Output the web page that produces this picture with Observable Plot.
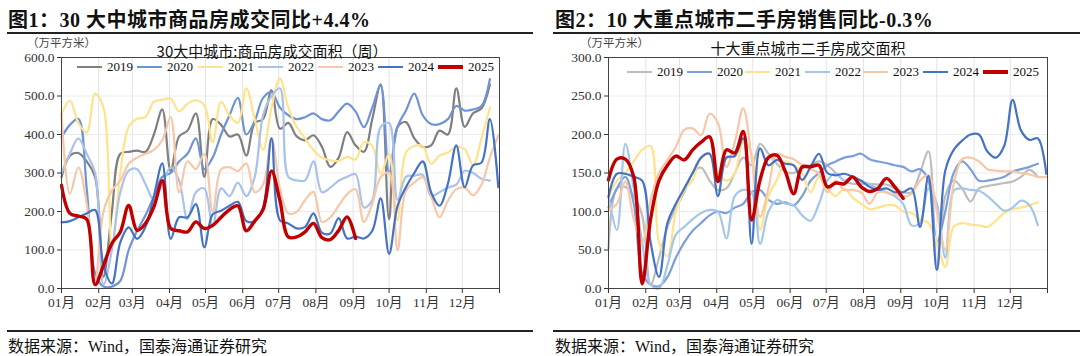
<!DOCTYPE html>
<html><head><meta charset="utf-8">
<script src="https://cdn.jsdelivr.net/npm/d3@7"></script>
<script src="https://cdn.jsdelivr.net/npm/@observablehq/plot@0.6"></script>
<style>
body{margin:0;background:#fff;width:1080px;height:356px;overflow:hidden;font-family:"Liberation Serif","Noto Sans CJK SC",serif;color:#111;}
.panel{position:absolute;top:0;width:540px;height:356px;}
.title{position:absolute;top:4px;font-size:20px;font-weight:bold;white-space:nowrap;letter-spacing:0.5px;}
.rule{position:absolute;height:2px;background:#222;}
.foot{position:absolute;top:333px;font-size:16px;white-space:nowrap;}
.unit{position:absolute;font-size:11.5px;line-height:12px;color:#444;white-space:nowrap;font-family:"Noto Sans CJK SC",sans-serif;}
.sub{position:absolute;font-size:15px;line-height:16px;color:#111;white-space:nowrap;font-family:"Noto Sans CJK SC",sans-serif;transform:translateX(-50%);}
.chart{position:absolute;top:36px;left:0;}
.legend{position:absolute;font-size:13px;white-space:nowrap;}
.li{position:absolute;top:0;display:flex;align-items:center;height:14px;}
.sw{display:inline-block;width:25px;margin-right:5px;}
</style></head>
<body>
<div class="panel" id="p1" style="left:0">
  <div class="title" style="left:8px">图1：30 大中城市商品房成交同比+4.4%</div>
  <div class="rule" style="left:7px;width:526px;top:32px"></div>
  <div class="chart" id="c1"></div>
  <div class="unit" style="left:27px;top:36px">（万平方米）</div>
  <div class="sub" style="left:272px;top:43px">30大中城市:商品房成交面积（周）</div>
  <div class="legend" id="lg1" style="left:0;top:60px"></div>
  <div class="rule" style="left:7px;width:526px;top:330px"></div>
  <div class="foot" style="left:8px">数据来源：Wind，国泰海通证券研究</div>
</div>
<div class="panel" id="p2" style="left:540px">
  <div class="title" style="left:15px">图2：10 大重点城市二手房销售同比-0.3%</div>
  <div class="rule" style="left:13px;width:527px;top:32px"></div>
  <div class="chart" id="c2"></div>
  <div class="unit" style="left:40px;top:36px">（万平方米）</div>
  <div class="sub" style="left:268px;top:40px">十大重点城市二手房成交面积</div>
  <div class="legend" id="lg2" style="left:0;top:65px"></div>
  <div class="rule" style="left:13px;width:527px;top:330px"></div>
  <div class="foot" style="left:15px">数据来源：Wind，国泰海通证券研究</div>
</div>
<script>
// ---------- data ----------
const months = ["01月","02月","03月","04月","05月","06月","07月","08月","09月","10月","11月","12月"];
const years = ["2019","2020","2021","2022","2023","2024","2025"];

// Figure 1: 30 cities new home sales area (weekly, 万平方米)
const new2019 = [289,345,352,330,290,30,200,350,355,358, 355,400,465,305,395,410,455,290,440,425, 395,400,345,430,440,515,415,430,395,385, 398,368,316,340,406,372,355,440,530,180, 419,432,390,368,372,410,400,520,420,455, 468,530];
const new2020 = [393,425,441,260,40,5,5,20,100,150, 190,240,290,300,330,350,390,310,340,400, 450,495,400,435,495,510,470,450,440,445, 455,440,437,460,480,460,419,470,527,300, 420,462,506,450,427,427,440,474,462,465, 474,544];
const new2021 = [453,488,430,405,506,470,107,300,420,441, 445,485,490,493,460,480,489,476,380,485, 450,430,520,440,360,470,545,470,420,390, 360,340,333,331,342,335,380,370,298,350, 177,353,370,370,324,345,353,367,362,320, 390,470];
const new2022 = [300,350,390,350,300,10,100,250,306,310, 271,230,270,315,280,180,250,260,160,260, 240,275,240,290,450,500,520,290,281,281, 330,250,262,280,290,297,210,230,420,430, 230,290,293,295,240,250,262,270,306,300, 285,280];
const new2023 = [453,246,315,220,20,200,255,280,324,340, 350,360,385,445,250,330,310,350,200,310, 315,305,325,250,270,390,260,195,199,230, 251,173,185,215,245,258,173,220,289,300, 99,254,275,289,240,185,228,258,262,242, 270,340,398];
const new2024 = [172,175,185,195,204,60,13,120,159,129, 160,240,325,129,185,185,219,107,193,202, 215,225,175,175,210,390,177,169,156,160, 195,145,143,183,130,135,130,150,234,90, 214,263,300,330,250,215,272,372,263,320, 327,440,263];
const new2025 = [268,195,188,180,10,60,117,147,216,151, 169,212,280,156,150,147,173,156,164,185, 205,215,150,175,205,305,229,134,134,147, 169,132,127,151,186,130];

// Figure 2: 10 key cities second-hand home sales area (weekly, 万平方米)
const sec2019 = [52,130,132,120,95,5,40,80,105,125, 150,157,140,128,130,150,170,160,188,175, 162,152,150,156,160,165,160,150,140,136, 136,136,135,135,130,125,125,150,178,24, 120,140,130,113,130,133,135,137,139,145, 154,145];
const sec2020 = [105,130,145,110,20,5,3,15,40,60, 75,85,95,100,98,105,110,125,128,115, 110,112,108,120,140,150,160,165,170,172, 175,168,165,163,160,158,152,155,140,60, 100,150,165,155,140,140,142,145,152,155, 158,162];
const sec2021 = [119,140,150,165,180,185,60,42,100,128, 141,170,175,150,140,150,190,175,76,120, 141,165,160,150,125,145,130,120,130,118, 110,103,105,108,108,100,98,90,85,60, 28,80,85,83,82,80,88,98,103,105, 108,112];
const sec2022 = [120,76,188,130,60,5,0,30,70,80, 90,98,102,100,65,120,128,125,58,100, 115,110,108,95,88,110,140,150,140,145, 140,135,130,125,120,110,82,85,130,110, 40,127,130,128,127,120,110,101,105,114, 108,82];
const sec2023 = [102,110,139,90,60,115,150,167,184,206, 208,199,227,215,158,190,234,170,93,130, 175,171,168,160,155,149,125,140,128,128, 125,110,125,125,122,119,123,140,147,100, 50,136,168,170,165,155,153,152,152,150, 148,145,145];
const sec2024 = [119,149,149,145,140,60,15,85,110,130, 150,170,175,120,170,172,195,58,182,160, 167,162,160,141,158,175,150,147,149,145, 140,132,128,130,125,125,130,80,146,24, 153,180,192,200,200,178,170,185,245,205, 193,195,149];
const sec2025 = [141,168,168,145,6,90,140,160,172,167, 180,190,197,139,180,176,204,89,141,170, 173,152,123,158,158,160,132,137,136,145, 132,126,130,143,132,117];

const colors1 = ["#7f7f7f","#6f94d6","#ffe38c","#a9c2ea","#f6c7a8","#4472c4","#c00000"];
const colors2 = ["#bdbdbd","#7c9fdc","#ffe38c","#a3c6ea","#f6c7a8","#4472c4","#c00000"];

// ---------- build ----------
function rows(vals, year){
  return vals.map((v,i)=>({date:new Date(Date.UTC(2025,0,1+7*i)), v, year}));
}
const tickDates = d3.range(13).map(m=>new Date(Date.UTC(2025,m,1)));
const fmtX = d => d.getUTCFullYear()>2025 ? "" : months[d.getUTCMonth()];

function chart(series, colors, yMax, yStep, mLeft, mRight){
  const marks = [
    Plot.gridX(tickDates.slice(1,12), {stroke:"#e3e3e3", strokeOpacity:1}),
    Plot.gridY(d3.range(yStep, yMax, yStep), {stroke:"#ececec", strokeOpacity:1}),
  ];
  series.forEach((s,k)=>{
    marks.push(Plot.line(rows(s, years[k]), {x:"date", y:"v", stroke:colors[k],
      strokeWidth: k===6 ? 3.4 : 2.2, curve:"catmull-rom"}));
  });
  marks.push(Plot.axisX({ticks:tickDates, tickFormat:fmtX, tickSize:5, tickPadding:4, label:null, stroke:"#333"}));
  marks.push(Plot.axisY({ticks:d3.range(0, yMax+1, yStep), tickFormat:d=>d.toFixed(1), tickSize:4, tickPadding:3, label:null}));
  marks.push(Plot.frame({stroke:"#444"}));
  return Plot.plot({
    width:540, height:290,
    marginLeft:mLeft, marginRight:mRight, marginTop:21, marginBottom:38,
    style:{fontFamily:"Liberation Serif, Noto Sans CJK SC, serif", fontSize:"13.5px", color:"#333", background:"transparent"},
    x:{type:"utc", domain:[new Date(Date.UTC(2025,0,1)), new Date(Date.UTC(2026,0,1))]},
    y:{domain:[0,yMax]},
    marks
  });
}

document.getElementById("c1").append(chart([new2019,new2020,new2021,new2022,new2023,new2024,new2025], colors1, 600, 100, 61, 41));
document.getElementById("c2").append(chart([sec2019,sec2020,sec2021,sec2022,sec2023,sec2024,sec2025], colors2, 300, 50, 68, 33));

function legend(el, colors, starts){
  years.forEach((y,k)=>{
    const d = document.createElement("div");
    d.className="li"; d.style.left = starts[k]+"px";
    d.innerHTML = `<span class="sw" style="height:${k===6?3.5:2.5}px;background:${colors[k]}"></span><span>${y}</span>`;
    el.append(d);
  });
}
legend(document.getElementById("lg1"), colors1, [77,137,198,258,318,378,438]);
legend(document.getElementById("lg2"), colors2, [87,147,205,265,323,383,443]);
</script>
</body></html>
